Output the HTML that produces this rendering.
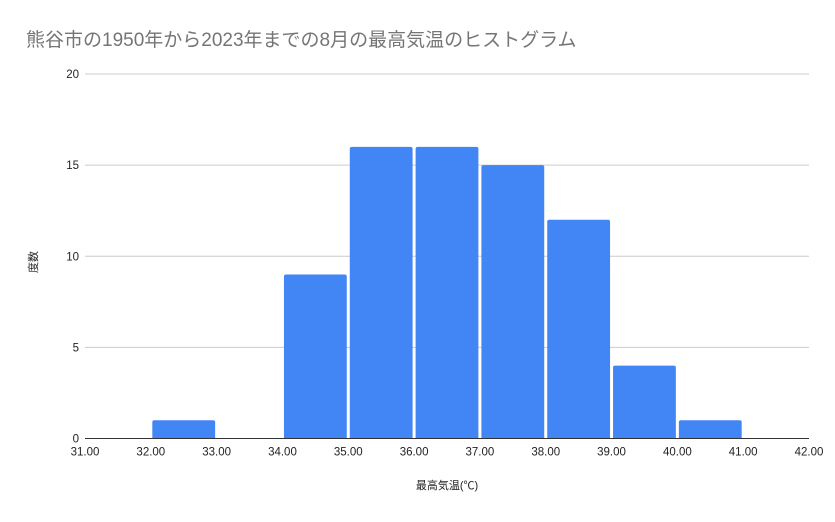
<!DOCTYPE html>
<html><head><meta charset="utf-8"><style>
body{margin:0;background:#fff;font-family:"Liberation Sans","Noto Sans CJK JP",sans-serif}
</style></head><body>
<svg id="c" width="835" height="517" xmlns="http://www.w3.org/2000/svg">
<text x="26" y="46" font-size="19" fill="#757575" font-family="Liberation Sans, Noto Sans CJK JP, sans-serif">熊谷市の1950年から2023年までの8月の最高気温のヒストグラム</text>
<text x="447" y="489" font-size="11" fill="#222" text-anchor="middle" font-family="Liberation Sans, Noto Sans CJK JP, sans-serif">最高気温(℃)</text>
<text transform="translate(37,262) rotate(-90)" font-size="11" fill="#222" text-anchor="middle" font-family="Liberation Sans, Noto Sans CJK JP, sans-serif">度数</text>
<g id="grid"></g><g id="bars"></g><g id="axes"></g>
</svg>
<script>
const binStarts=[31,32,33,34,35,36,37,38,39,40,41];
const counts=[0,1,0,9,16,16,15,12,4,1,0];
const yTicks=[0,5,10,15,20];
const xTicks=[31,32,33,34,35,36,37,38,39,40,41,42];
const NS="http://www.w3.org/2000/svg";
const x0=85,x1=809,y0=438.5,y1=74;
const xs=v=>x0+(v-31)/(42-31)*(x1-x0);
const ys=v=>y0-(v/20)*(y0-y1);
function mk(t,a,p){const e=document.createElementNS(NS,t);for(const k in a)e.setAttribute(k,a[k]);p.appendChild(e);return e;}
const grid=document.getElementById('grid'),bars=document.getElementById('bars'),axes=document.getElementById('axes');
yTicks.forEach(v=>{
 if(v>0){const l=mk('line',{x1:x0,x2:x1,y1:ys(v),y2:ys(v),stroke:'#ccc','stroke-width':1},grid);
 
 }
 const t=mk('text',{x:x0-6,y:ys(v)+4,'font-size':11.5,fill:'#222','text-anchor':'end'},grid);
 t.textContent=v;
 
 
});
xTicks.forEach(v=>{
 const t=mk('text',{x:xs(v),y:y0+17,'font-size':11.5,fill:'#222','text-anchor':'middle'},axes);
 t.textContent=v.toFixed(2);
 
 
});
binStarts.forEach((b,i)=>{
 if(counts[i]<=0)return;
 const xa=xs(b)+1.5,xb=xs(b+1)-1.5,yt=ys(counts[i]);
 const r=2;
 const p=mk('path',{d:`M${xa},${y0}V${yt+r}Q${xa},${yt} ${xa+r},${yt}H${xb-r}Q${xb},${yt} ${xb},${yt+r}V${y0}Z`,fill:'#4285f4'},bars);
 
 
});
const ax=mk('line',{x1:x0,x2:x1,y1:y0,y2:y0,stroke:'#333','stroke-width':1},axes);


</script>
</body></html>
